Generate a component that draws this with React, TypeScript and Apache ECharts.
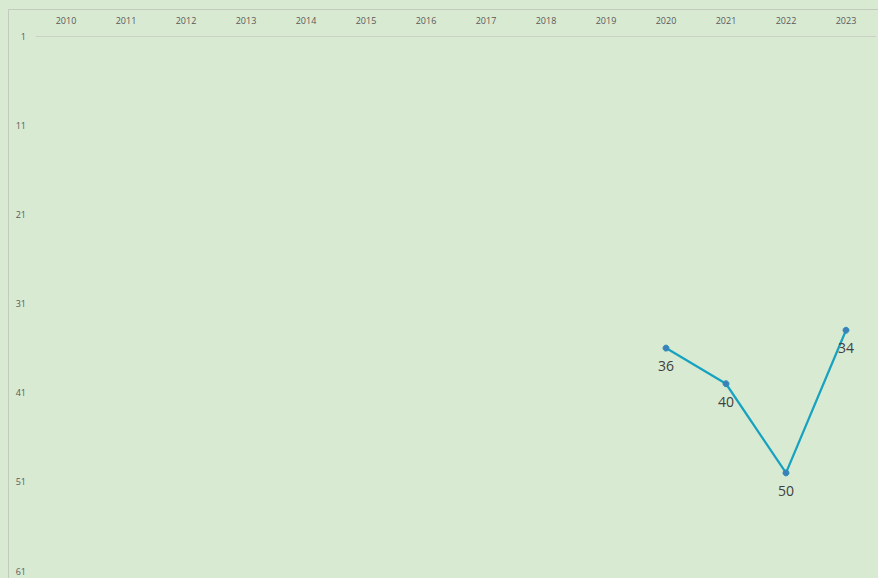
import React, { useEffect, useRef } from "react";
import * as echarts from "echarts";

const years = ["2010", "2011", "2012", "2013", "2014", "2015", "2016", "2017", "2018", "2019", "2020", "2021", "2022", "2023"];
const ranks: (number | null)[] = [null, null, null, null, null, null, null, null, null, null, 36, 40, 50, 34];
const yMin = 1;
const yMax = 61;
const yInterval = 10;

export default function App() {
  const ref = useRef<HTMLDivElement>(null);
  useEffect(() => {
    if (!ref.current) return;
    const chart = echarts.init(ref.current, undefined, { renderer: "svg" });
    chart.setOption({
      animation: false,
      backgroundColor: "#d9ead3",
      graphic: [
        {
          type: "rect",
          shape: { x: 8.5, y: 9.5, width: 900, height: 600 },
          style: { fill: "none", stroke: "#c3cbbf", lineWidth: 1 },
          silent: true,
        },
      ],
      grid: { left: 36, right: 2, top: 36, bottom: 7 },
      xAxis: {
        type: "category",
        position: "top",
        data: years,
        boundaryGap: true,
        axisLine: { show: true, lineStyle: { color: "#c9d2c5", width: 1 } },
        axisTick: { show: false },
        axisLabel: { color: "#595959", fontSize: 9, margin: 11, fontFamily: "Open Sans" },
        splitLine: { show: false },
      },
      yAxis: {
        type: "value",
        inverse: true,
        min: yMin,
        max: yMax,
        interval: yInterval,
        axisLine: { show: false },
        axisTick: { show: false },
        splitLine: { show: false },
        axisLabel: { color: "#595959", fontSize: 9, margin: 10, fontFamily: "Open Sans" },
      },
      series: [
        {
          type: "line",
          data: ranks,
          connectNulls: false,
          symbol: "circle",
          symbolSize: 6,
          lineStyle: { color: "#17a2bf", width: 2.25 },
          itemStyle: { color: "#3d7fb8", borderColor: "#2a8fb8", borderWidth: 1 },
          label: {
            show: true,
            position: "bottom",
            distance: 7,
            color: "#404040",
            fontSize: 14,
            fontFamily: "Open Sans",
          },
        },
      ],
    });
    return () => chart.dispose();
  }, []);
  return (
    <div style={{ position: "fixed", left: 0, top: 0, width: 878, height: 578, background: "#d9ead3" }}>
      <div ref={ref} style={{ width: 878, height: 578 }} />
    </div>
  );
}
